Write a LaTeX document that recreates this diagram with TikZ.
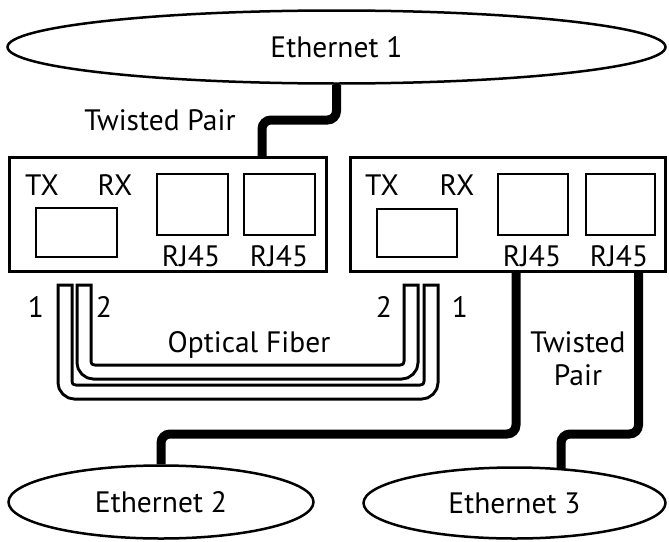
\documentclass[tikz,border=0pt]{standalone}
\usepackage{fontspec}
\setmainfont{PT Sans}
\usetikzlibrary{positioning, calc, backgrounds, shapes.geometric}

\begin{document}
\begin{tikzpicture}[x=1pt, y=-1pt,
        every node/.style={font=\fontsize{29.5}{35}\selectfont},
        lan/.style={ellipse, draw, line width=2.5pt, fill=white, inner sep=0pt},
        conv/.style={rectangle, draw, line width=3pt, inner sep=0pt},
        port/.style={rectangle, draw, line width=2.5pt, inner sep=0pt},
        lbl/.style={anchor=base, inner sep=0pt},
        tp/.style={line width=9pt, rounded corners=9pt},
        fiber/.style={line width=17pt, rounded corners=10pt,
            postaction={draw, white, line width=11pt, shorten <=3pt, shorten >=3pt}},
    ]
    \useasboundingbox (0,0) rectangle (669,541);

    % LANs
    \node[lan, minimum width=658pt, minimum height=73pt] (eth1) at (336.5,47) {Ethernet 1};
    \node[lan, minimum width=305pt, minimum height=73pt] (eth2) at (161,502) {Ethernet 2};
    \node[lan, minimum width=302pt, minimum height=71pt] (eth3) at (514.5,503) {Ethernet 3};

    % Converter 1
    \node[conv, minimum width=317pt, minimum height=114pt] (conv1) at (168,214.5) {};
    \node[port, minimum width=81pt, minimum height=49pt] (sfp1) at (76.5,232.5) {};
    \node[port, minimum width=71pt, minimum height=61pt] (rj1a) at (192.5,204.5) {};
    \node[port, minimum width=71pt, minimum height=61pt] (rj1b) at (279.5,204.5) {};
    \node[lbl] (tx1) at (42,195) {TX}; \node[lbl] (rx1) at (115,195) {RX};
    \node[lbl] (rjl1a) at (191,266) {RJ45}; \node[lbl] (rjl1b) at (279,266) {RJ45};

    % Converter 2
    \node[conv, minimum width=315pt, minimum height=114pt] (conv2) at (508,214.5) {};
    \node[port, minimum width=80pt, minimum height=48pt] (sfp2) at (417,233) {};
    \node[port, minimum width=70pt, minimum height=61pt] (rj2a) at (533,204.5) {};
    \node[port, minimum width=69pt, minimum height=61pt] (rj2b) at (620.5,204.5) {};
    \node[lbl] (tx2) at (382,195) {TX}; \node[lbl] (rx2) at (457,195) {RX};
    \node[lbl] (rjl2a) at (532,266) {RJ45}; \node[lbl] (rjl2b) at (619,266) {RJ45};

    % Optical fiber
    \coordinate (f1l) at (65,283.5); \coordinate (f1r) at (431,283.5);
    \coordinate (f2l) at (84,283.5); \coordinate (f2r) at (411,283.5);
    \draw[fiber] (f1l) -- ++(0,108.5) -| (f1r);
    \draw[fiber] (f2l) -- ++(0,88.5) -| (f2r);
    \node[lbl] (n1l) at (36,317) {1}; \node[lbl] (n2l) at (104,317) {2};
    \node[lbl] (n2r) at (384,317) {2}; \node[lbl] (n1r) at (460,317) {1};
    \node[lbl] (oflbl) at (249,352) {Optical Fiber};

    % Twisted pair
    \coordinate (tp1) at (262,120);
    \coordinate (tp2) at (161,434);
    \coordinate (tp3) at (561,434);
    \node[lbl] (tplbl1) at (160,130) {Twisted Pair};
    \node[lbl] (tplbl2) at (578,352) {Twisted};
    \node[lbl] (tplbl3) at (578,385) {Pair};
    \begin{scope}[on background layer]
        \draw[tp] (eth1.south) |- (tp1) -- (tp1 |- conv1.north);
        \draw[tp] ([xshift=-17pt]rj2a.south |- conv2.south) |- (tp2) -- (eth2);
        \draw[tp] ([xshift=18pt]rj2b.south |- conv2.south) |- (tp3) -- (tp3 |- eth3.center);
    \end{scope}
\end{tikzpicture}
\end{document}
